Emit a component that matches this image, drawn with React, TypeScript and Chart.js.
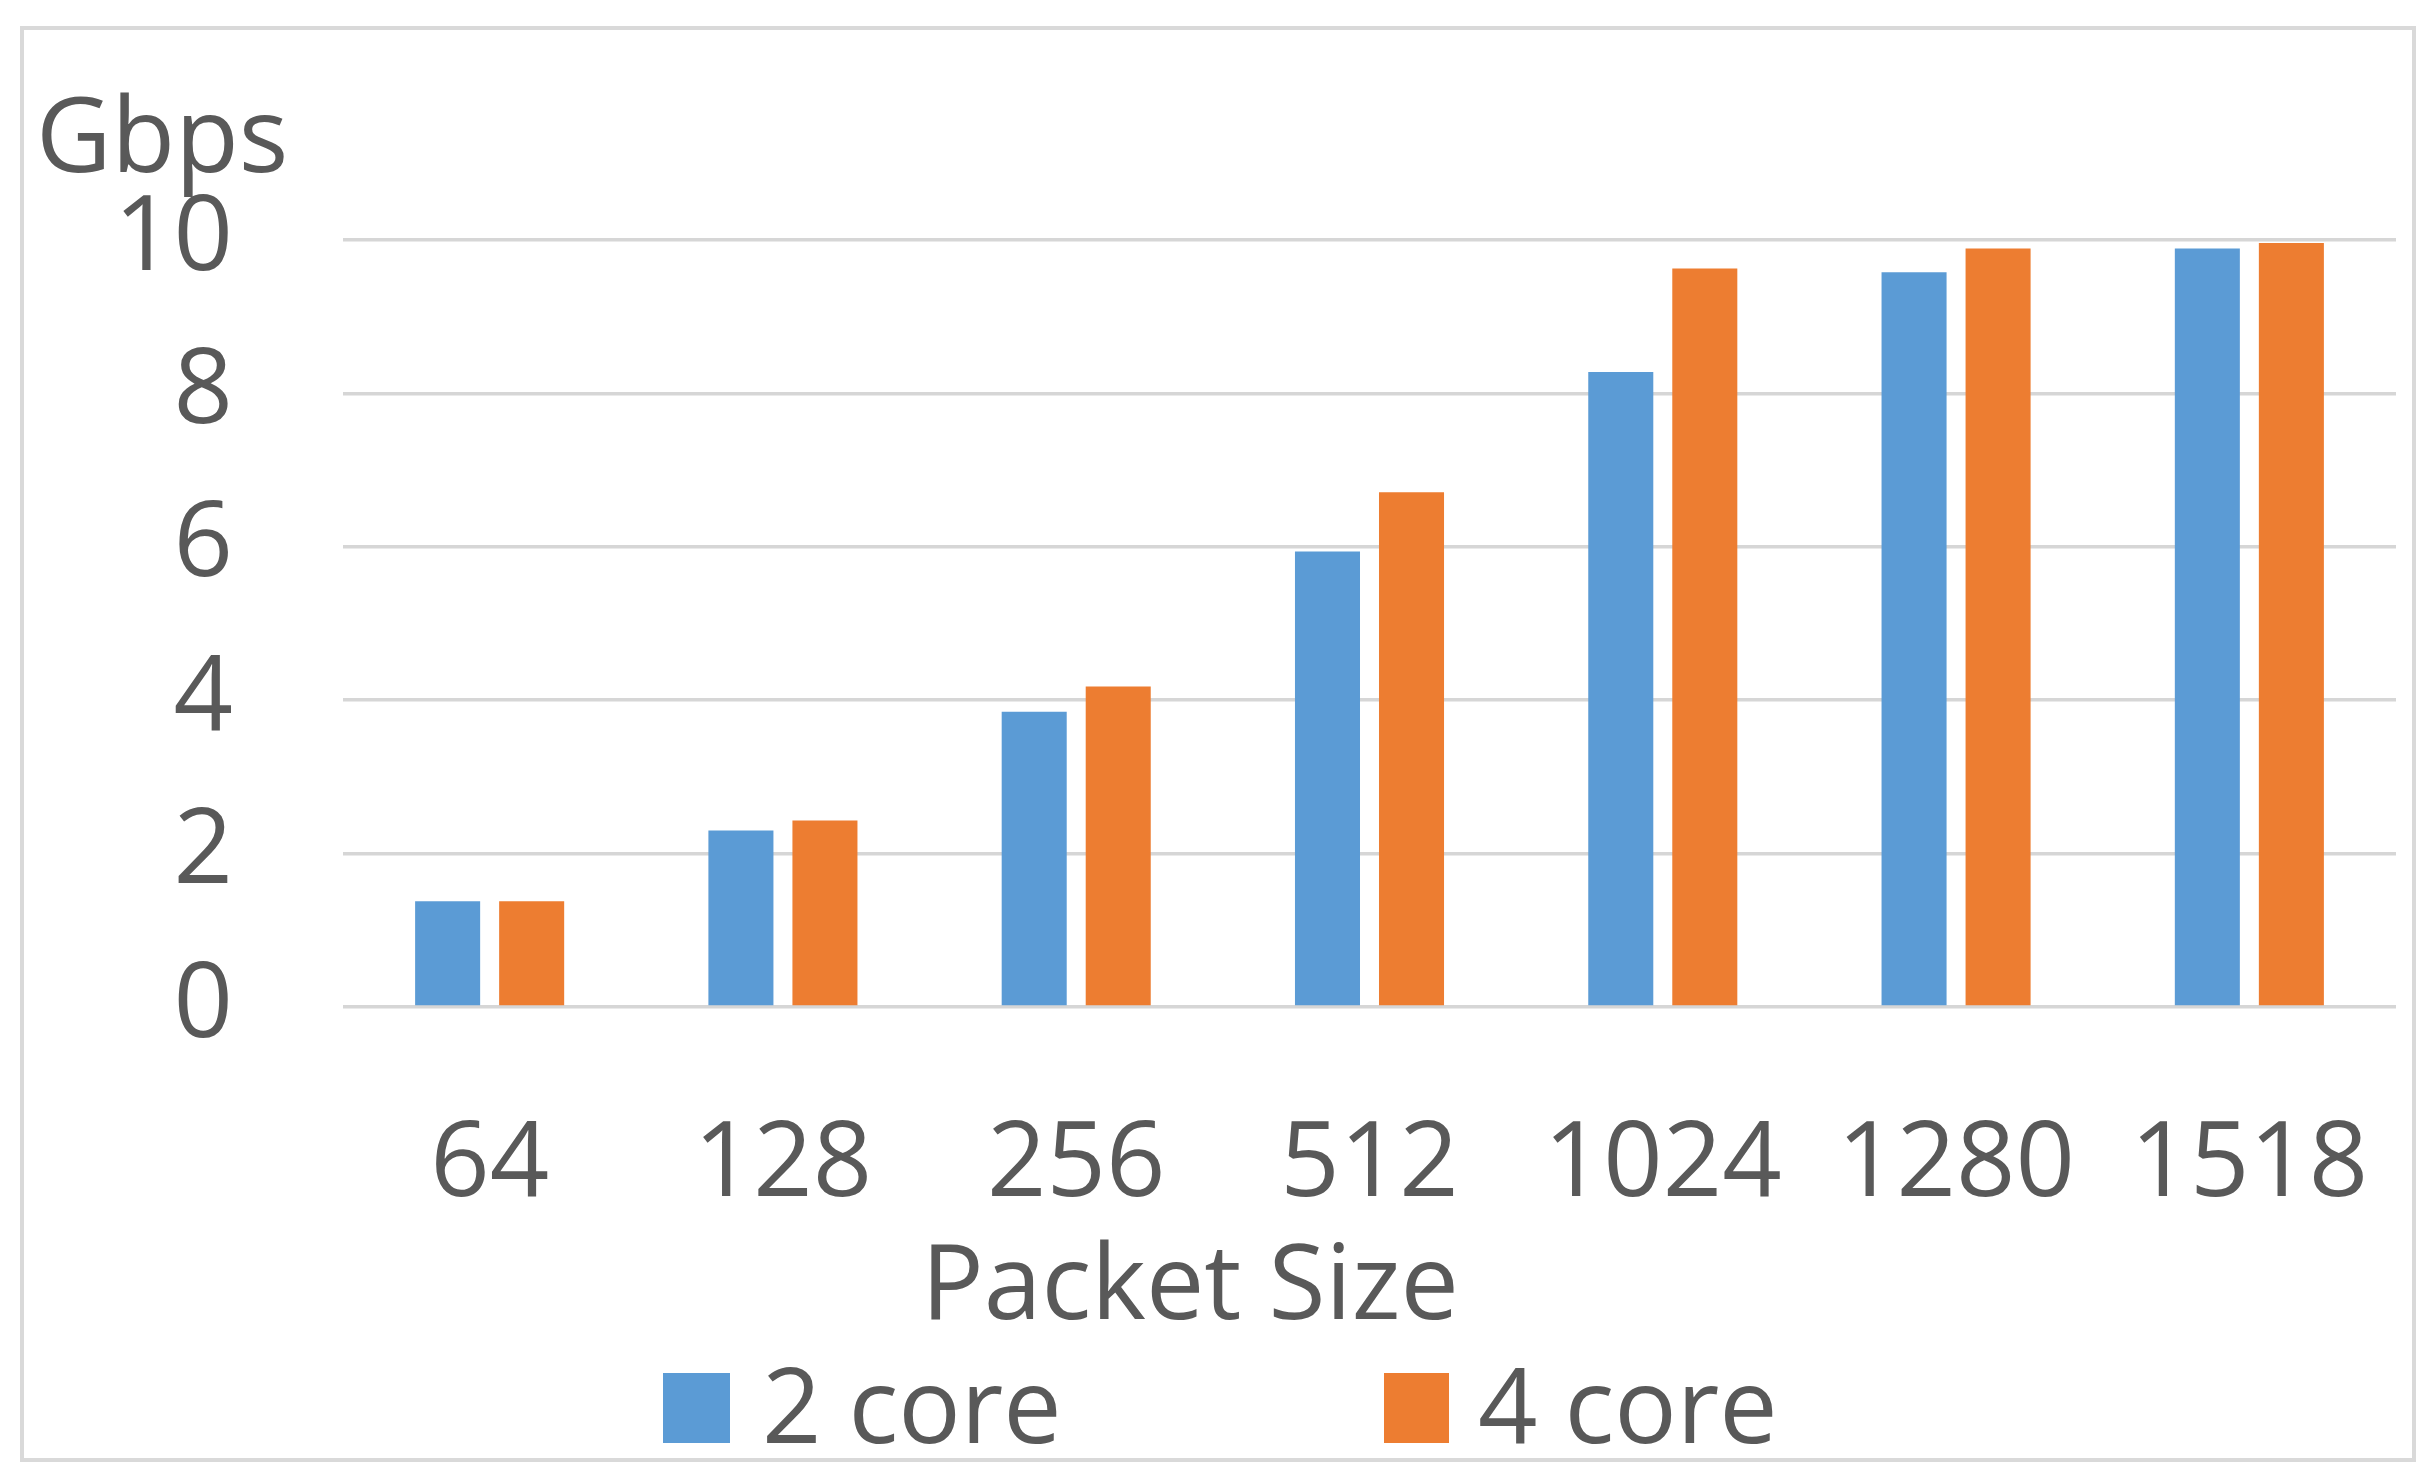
import React, { useEffect, useRef } from "react";
import { Chart, registerables } from "chart.js";

Chart.register(...registerables);

const categories = ["64", "128", "256", "512", "1024", "1280", "1518"];
const twoCore = [1.38, 2.3, 3.85, 5.94, 8.28, 9.58, 9.89];
const fourCore = [1.38, 2.43, 4.18, 6.71, 9.63, 9.89, 9.96];
const seriesLabels = ["2 core", "4 core"];
const seriesColors = ["#5B9BD5", "#ED7D31"];
const yTitle = "Gbps";
const xTitle = "Packet Size";

const W = 2434;
const H = 1479;
const FONT = "'Open Sans', 'Noto Sans', sans-serif";
const TEXT = "#595959";

const decorPlugin = {
  id: "decor",
  afterDraw(chart: any) {
    const ctx = chart.ctx;
    ctx.save();
    // outer frame
    ctx.strokeStyle = "#d9d9d9";
    ctx.lineWidth = 4;
    ctx.strokeRect(22, 28, 2392, 1432);

    ctx.fillStyle = TEXT;
    ctx.font = `104px ${FONT}`;
    ctx.textBaseline = "alphabetic";
    // y unit label
    ctx.textAlign = "left";
    ctx.fillText(yTitle, 36, 172);
    // x title
    ctx.textAlign = "center";
    ctx.fillText(xTitle, 1190, 1319);

    // legend
    const boxes = [
      { x: 663, w: 67, tx: 762 },
      { x: 1384, w: 65, tx: 1478 },
    ];
    chart.data.datasets.forEach((ds: any, i: number) => {
      const b = boxes[i];
      ctx.fillStyle = ds.backgroundColor;
      ctx.fillRect(b.x, 1373, b.w, 70);
      ctx.fillStyle = TEXT;
      ctx.textAlign = "left";
      ctx.fillText(ds.label, b.tx, 1443);
    });
    ctx.restore();
  },
};

export default function App() {
  const canvasRef = useRef<HTMLCanvasElement | null>(null);

  useEffect(() => {
    document.body.style.margin = "0";
    const canvas = canvasRef.current;
    if (!canvas) return;
    const chart = new Chart(canvas, {
      type: "bar",
      data: {
        labels: categories,
        datasets: [
          {
            label: seriesLabels[0],
            data: twoCore,
            backgroundColor: seriesColors[0],
            categoryPercentage: 0.573,
            barPercentage: 0.774,
          },
          {
            label: seriesLabels[1],
            data: fourCore,
            backgroundColor: seriesColors[1],
            categoryPercentage: 0.573,
            barPercentage: 0.774,
          },
        ],
      },
      options: {
        animation: false,
        responsive: false,
        devicePixelRatio: 1,
        layout: { padding: { left: 0, right: 38, top: 240, bottom: 0 } },
        plugins: {
          legend: { display: false },
          tooltip: { enabled: false },
          title: { display: false },
        },
        scales: {
          x: {
            grid: { display: false, drawTicks: false },
            border: { display: false },
            ticks: {
              color: TEXT,
              font: { family: FONT, size: 104, lineHeight: 3.06 },
              padding: 0,
              maxRotation: 0,
              minRotation: 0,
              autoSkip: false,
            },
            afterFit(scale: any) {
              scale.height = 472;
            },
          },
          y: {
            min: 0,
            max: 10,
            grid: { color: "#d6d6d6", lineWidth: 3.5, drawTicks: false },
            border: { display: false },
            ticks: {
              stepSize: 2,
              color: TEXT,
              font: { family: FONT, size: 104 },
              padding: 110,
            },
            afterFit(scale: any) {
              scale.width = 343;
            },
          },
        },
      },
      plugins: [decorPlugin],
    });
    return () => chart.destroy();
  }, []);

  return (
    <div style={{ width: W, height: H, background: "#fff" }}>
      <canvas ref={canvasRef} width={W} height={H} style={{ display: "block" }} />
    </div>
  );
}
